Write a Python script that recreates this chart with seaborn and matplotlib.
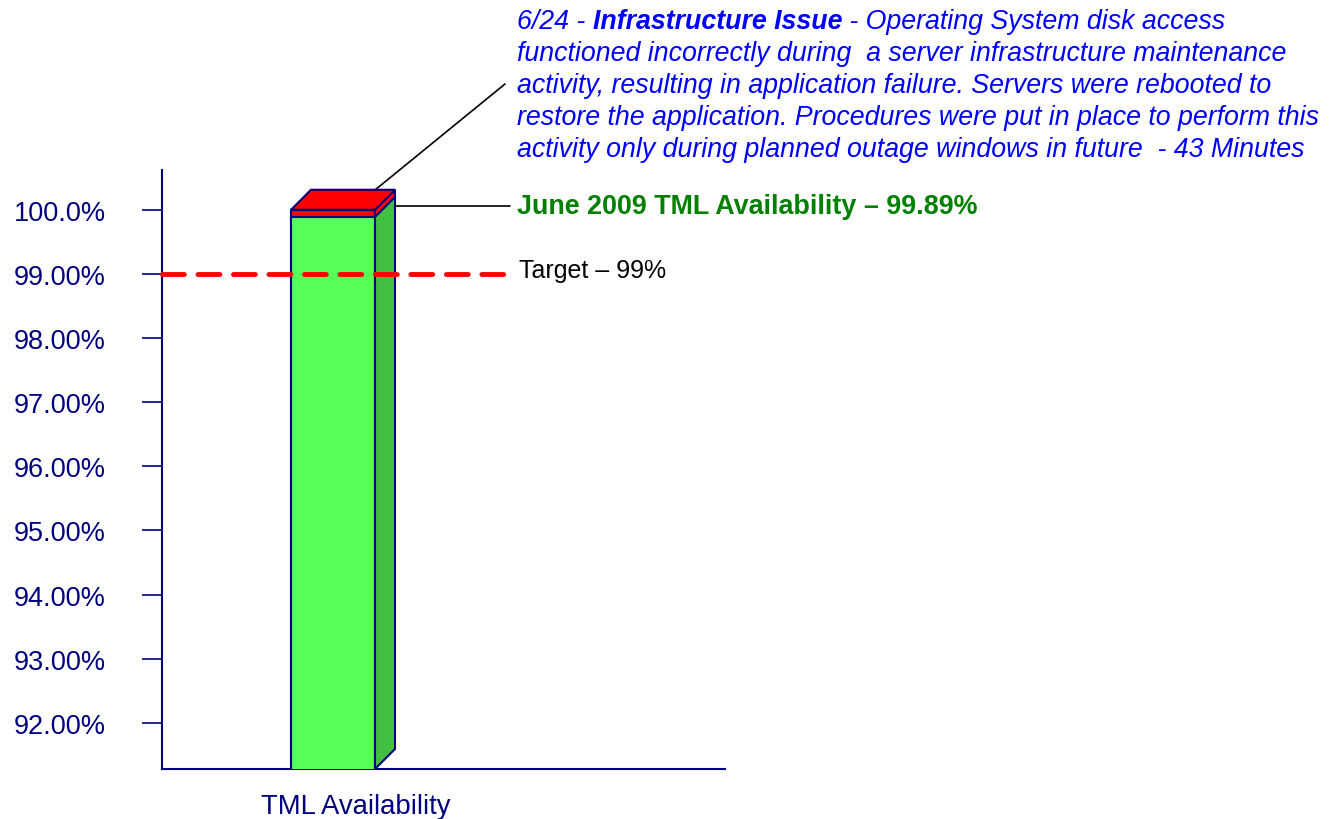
import matplotlib
matplotlib.use("Agg")
import matplotlib.pyplot as plt
import seaborn as sns
from matplotlib.patches import Polygon
import matplotlib.transforms as mtransforms

# ---------------- data ----------------
categories = ["TML Availability"]
availability = [99.89]          # % available
outage_total = [100.0]          # availability + outage (43 minutes)
target = 99.0
ytick_values = [92, 93, 94, 95, 96, 97, 98, 99, 100]
ytick_labels = ["92.00%", "93.00%", "94.00%", "95.00%", "96.00%",
                "97.00%", "98.00%", "99.00%", "100.0%"]
note_line1 = ["6/24 - ", "Infrastructure Issue", " - Operating System disk access"]
note_lines = [
    "functioned incorrectly during  a server infrastructure maintenance",
    "activity, resulting in application failure. Servers were rebooted to",
    "restore the application. Procedures were put in place to perform this",
    "activity only during planned outage windows in future  - 43 Minutes",
]
avail_label = "June 2009 TML Availability \u2013 99.89%"
target_label = "Target \u2013 99%"

# ---------------- style ----------------
sns.set_theme(style="white")
plt.rcParams["font.family"] = ["Liberation Sans", "DejaVu Sans"]
NAVY = "#000080"
GREEN = "#55FF55"
GREEN_SIDE = "#41BF41"
RED = "#FF0000"
BLUE_TXT = "#0000FF"
GREEN_TXT = "#008000"

W, H = 1331, 820
fig = plt.figure(figsize=(W / 100, H / 100), dpi=100)
ax = fig.add_axes([162 / W, 1 - 770 / H, (725 - 162) / W, (770 - 171) / H])

# stacked look: red total first, green availability in front
sns.barplot(x=categories, y=outage_total, color=RED, saturation=1, width=0.3,
            edgecolor=NAVY, linewidth=1.5, ax=ax, zorder=3)
sns.barplot(x=categories, y=availability, color=GREEN, saturation=1, width=0.3,
            edgecolor=NAVY, linewidth=1.5, ax=ax, zorder=4)

ymin, ymax = 91.28, 100.62
xmin, xmax = -0.6107, 1.40
ax.set_ylim(ymin, ymax)
ax.set_xlim(xmin, xmax)

ax_w_px = 725 - 162
ax_h_px = 770 - 171


def px_to_x(px):
    return xmin + (px - 162) / ax_w_px * (xmax - xmin)


# 3-D depth derived from pixel offset
depth_px = 20
dx = depth_px / ax_w_px * (xmax - xmin)
dy = depth_px / ax_h_px * (ymax - ymin)

bar = ax.patches[-1]
x0 = bar.get_x()
x1 = x0 + bar.get_width()
g_top = availability[0]
r_top = outage_total[0]

side_green = Polygon([(x1, ymin), (x1 + dx, ymin + dy), (x1 + dx, g_top + dy), (x1, g_top)],
                     closed=True, facecolor=GREEN_SIDE, edgecolor=NAVY, lw=1.5, zorder=5)
side_red = Polygon([(x1, g_top), (x1 + dx, g_top + dy), (x1 + dx, r_top + dy), (x1, r_top)],
                   closed=True, facecolor=RED, edgecolor=NAVY, lw=1.5, zorder=5)
top_face = Polygon([(x0, r_top), (x0 + dx, r_top + dy), (x1 + dx, r_top + dy), (x1, r_top)],
                   closed=True, facecolor=RED, edgecolor=NAVY, lw=1.5, zorder=5)
for p in (side_green, side_red, top_face):
    ax.add_patch(p)

# target line
ax.plot([xmin, px_to_x(505)], [target, target], color=RED, lw=3.5, ls=(0, (4.5, 2.8)),
        solid_capstyle="round", dash_capstyle="round", zorder=6, clip_on=False)

# axes styling
for s in ("top", "right"):
    ax.spines[s].set_visible(False)
for s in ("left", "bottom"):
    ax.spines[s].set_color(NAVY)
    ax.spines[s].set_linewidth(1.5)
ax.set_yticks(ytick_values)
ax.set_yticklabels(ytick_labels)
ax.tick_params(axis="y", left=True, direction="out", length=14.5, width=1.2,
               color=NAVY, pad=26, labelsize=19.5, labelcolor=NAVY)
ax.tick_params(axis="x", bottom=False, labelsize=19.8, labelcolor=NAVY, pad=11)
ax.set_xticks([0])
ax.set_xticklabels(categories)
offset = mtransforms.ScaledTranslation(23 / 100, 0, fig.dpi_scale_trans)
for lbl in ax.get_xticklabels():
    lbl.set_transform(lbl.get_transform() + offset)
ax.set_xlabel("")
ax.set_ylabel("")
ax.grid(False)

# availability label with horizontal leader
y_lead = (g_top + r_top) / 2 + dy * 0.35
ax.plot([x1 + dx, px_to_x(510)], [y_lead, y_lead], color="black", lw=1.2,
        clip_on=False, zorder=6)
fig.text(517 / W, (H - 214) / H, avail_label, color=GREEN_TXT, fontsize=19.4,
         fontweight="bold", va="baseline", ha="left")
# target label
fig.text(519 / W, (H - 278) / H, target_label, color="black", fontsize=18,
         va="baseline", ha="left")

# note text (blue, italic)
NOTE_FS = 19.3
baselines = [29, 61, 93, 125, 157]
t = fig.text(517 / W, (H - baselines[0]) / H, note_line1[0], color=BLUE_TXT,
             fontsize=NOTE_FS, style="italic", va="baseline", ha="left")
t2 = ax.annotate(note_line1[1], xy=(1, 0), xycoords=t, color=BLUE_TXT, fontsize=NOTE_FS,
                 style="italic", fontweight="bold", va="bottom", ha="left")
t3 = ax.annotate(note_line1[2], xy=(1, 0), xycoords=t2, color=BLUE_TXT, fontsize=NOTE_FS,
                 style="italic", va="bottom", ha="left")
for line, b in zip(note_lines, baselines[1:]):
    fig.text(517 / W, (H - b) / H, line, color=BLUE_TXT, fontsize=NOTE_FS,
             style="italic", va="baseline", ha="left")

# leader from top face to note
ax.annotate("", xy=(x1 - dx * 0.6, r_top + dy * 0.5), xycoords="data",
            xytext=(505, H - 85), textcoords="figure pixels",
            arrowprops=dict(arrowstyle="-", color="black", lw=1.2, shrinkA=0, shrinkB=0))

fig.savefig("out.png", dpi=100)
